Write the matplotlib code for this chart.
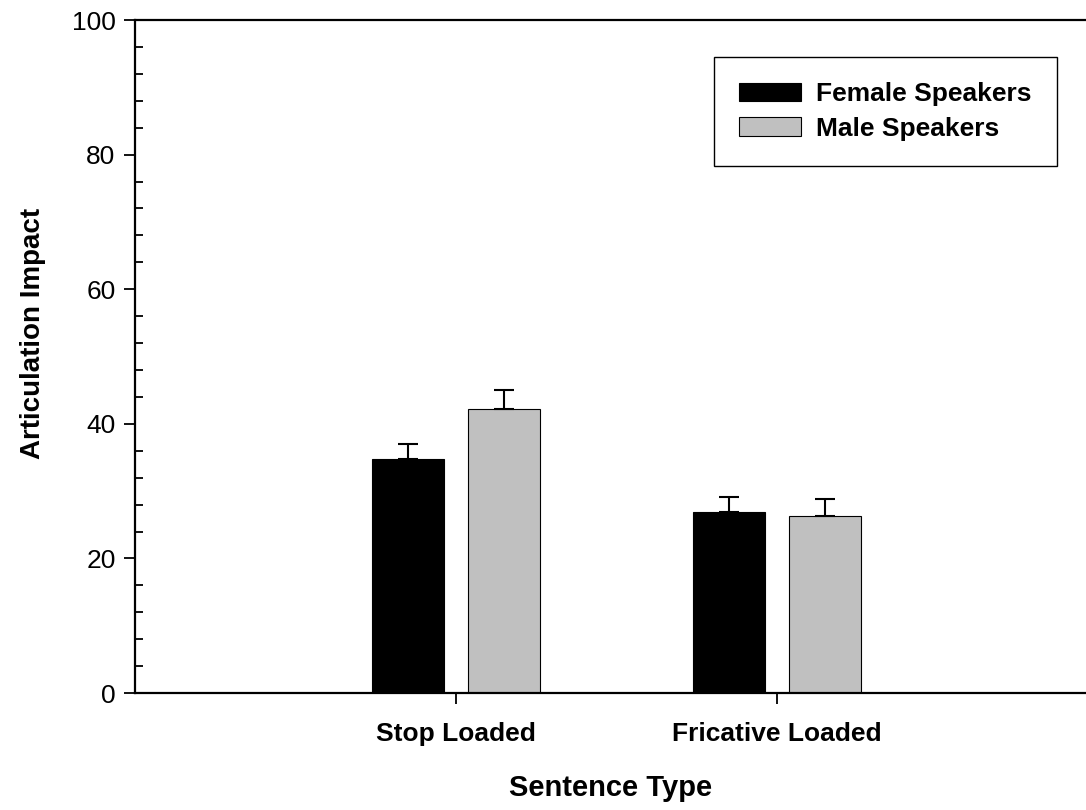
import numpy as np
import matplotlib
matplotlib.use('Agg')
import matplotlib.pyplot as plt
from matplotlib.ticker import MultipleLocator

plt.rcParams['font.family'] = ['Liberation Sans', 'DejaVu Sans']

# Datos
categorias = ['Stop Loaded', 'Fricative Loaded']
series = ['Female Speakers', 'Male Speakers']
mujeres = [34.8, 26.9]
hombres = [42.2, 26.3]
err_mujeres = [2.2, 2.2]
err_hombres = [2.8, 2.5]

x = np.arange(1, len(categorias) + 1)
ancho = 0.224
desp = 0.15

fig = plt.figure(figsize=(10.86, 8.1), dpi=100)
ax = fig.add_axes([0.1243, 0.1444, 0.8757, 0.8309])

ax.bar(x - desp, mujeres, ancho, color='black', edgecolor='black', linewidth=0.8,
       label=series[0], zorder=2)
ax.bar(x + desp, hombres, ancho, color='#c0c0c0', edgecolor='black', linewidth=0.8,
       label=series[1], zorder=2)
ax.errorbar(x - desp, mujeres, yerr=[np.zeros(len(x)), err_mujeres], fmt='none',
            ecolor='black', elinewidth=1.5, capsize=7.5, capthick=1.5, zorder=3)
ax.errorbar(x + desp, hombres, yerr=[np.zeros(len(x)), err_hombres], fmt='none',
            ecolor='black', elinewidth=1.5, capsize=7.5, capthick=1.5, zorder=3)

ax.set_xlim(0, 2.963)
ax.set_ylim(0, 100)
ax.set_xticks(x)
ax.set_xticklabels(categorias, fontsize=19, fontweight='bold')
ax.yaxis.set_major_locator(MultipleLocator(20))
ax.yaxis.set_minor_locator(MultipleLocator(4))
ax.tick_params(axis='y', which='major', direction='out', length=8, width=1.3,
               labelsize=19, pad=6)
ax.tick_params(axis='y', which='minor', direction='in', length=6, width=1.3)
ax.tick_params(axis='x', which='major', direction='out', length=8, width=1.3, pad=13)

for lado in ['left', 'bottom', 'top']:
    ax.spines[lado].set_linewidth(1.6)
ax.spines['right'].set_visible(False)

ax.set_ylabel('Articulation Impact', fontsize=20, fontweight='bold')
ax.yaxis.set_label_coords(-0.094, 0.535)
ax.set_xlabel('Sentence Type', fontsize=21, fontweight='bold', labelpad=20)

leg = ax.legend(loc='upper right', bbox_to_anchor=(0.9695, 0.945), fancybox=False,
                edgecolor='black', framealpha=1, prop={'size': 19, 'weight': 'bold'},
                handlelength=2.35, handleheight=0.7, borderpad=0.95, labelspacing=0.4,
                handletextpad=0.6, borderaxespad=0)
leg.get_frame().set_linewidth(1.0)

fig.savefig('out.png', dpi=100)
